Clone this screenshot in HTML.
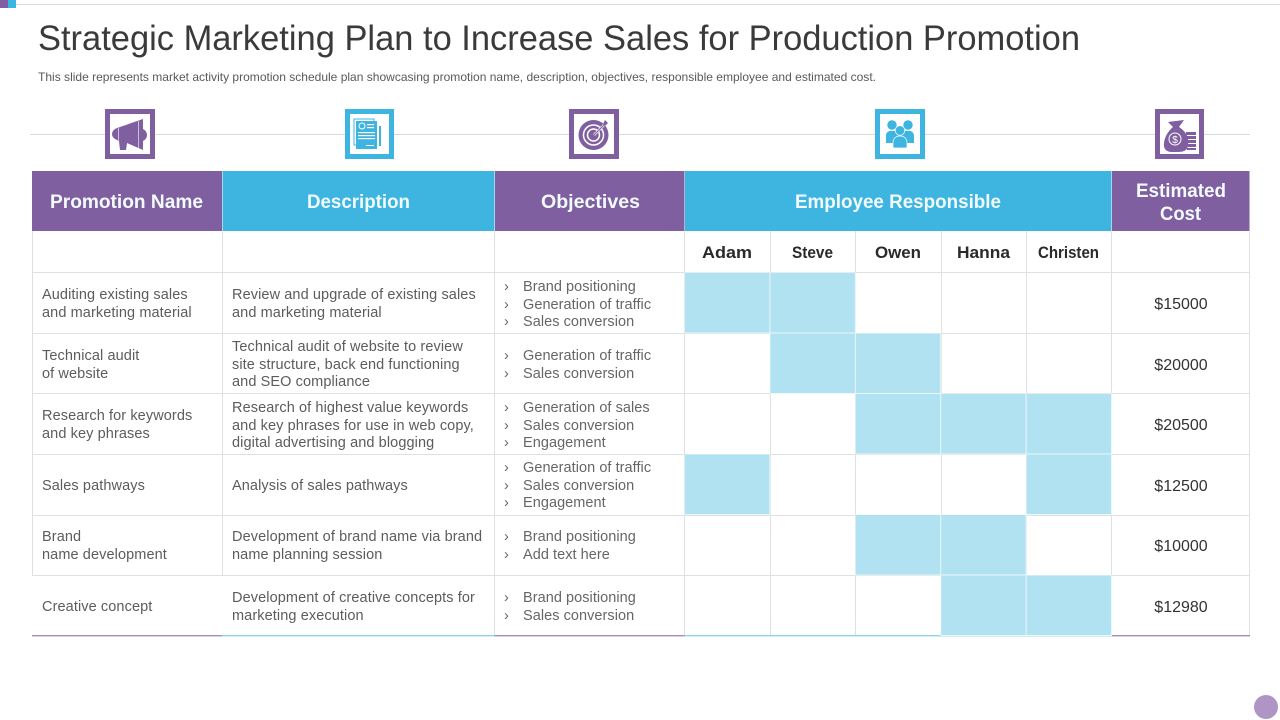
<!DOCTYPE html>
<html lang="en">
<head>
<meta charset="utf-8">
<title>Strategic Marketing Plan</title>
<style>
html,body{margin:0;padding:0;background:#fff;width:1280px;height:720px;overflow:hidden}
svg{display:block;font-family:"Liberation Sans",sans-serif}
.b{font-size:14.5px;fill:#5c5c5c;letter-spacing:.1px}
.a{font-size:14.5px;fill:#666;letter-spacing:.05px}
.h{font-size:19px;font-weight:bold;fill:#f2fbff;text-anchor:middle}
.n{font-size:16.5px;font-weight:bold;fill:#2a2a2a;text-anchor:middle}
.c{font-size:16px;fill:#333;text-anchor:middle}
.g{stroke:#e0e0e0;stroke-width:1}
</style>
</head>
<body>
<svg id="slide" width="1280" height="720" viewBox="0 0 1280 720" xmlns="http://www.w3.org/2000/svg">
<rect width="1280" height="720" fill="#fff"/>
<rect x="0" y="4" width="1280" height="1" fill="#d9d9d9"/>
<rect x="0" y="0" width="8" height="8" fill="#7f5f9f"/>
<rect x="8" y="0" width="8" height="8" fill="#3db5e0"/>
<text x="38" y="50" font-size="35" fill="#3a3a3a" textLength="1042" lengthAdjust="spacingAndGlyphs">Strategic Marketing Plan to Increase Sales for Production Promotion</text>
<text x="38" y="81" font-size="12" fill="#595959" textLength="838" lengthAdjust="spacingAndGlyphs">This slide represents market activity promotion schedule plan showcasing promotion name, description, objectives, responsible employee and estimated cost.</text>

<rect x="30" y="134" width="1220" height="1" fill="#d9d9d9"/>

<g>
<rect x="107.5" y="111.5" width="45" height="45" fill="#fff" stroke="#7f5f9f" stroke-width="5"/>
<path d="M117 128 L143 119 L143 150 L127 143 L126 150 L120 150 L119 141 L117 140 Q112 138 112 134 Q112 130 117 128 Z" fill="#7f5f9f"/>
<path d="M143 129 Q147 131 147 135 Q147 139 143 141 Z" fill="#7f5f9f"/>
<rect x="118" y="127" width="1" height="14" fill="#cbbcd9"/>
<rect x="138" y="121" width="1" height="27" fill="#cbbcd9"/>
</g>
<g>
<rect x="347.5" y="111.5" width="44" height="45" fill="#fff" stroke="#3db5e0" stroke-width="5"/>
<rect x="354" y="119" width="20" height="26" fill="none" stroke="#3db5e0" stroke-width="1"/>
<rect x="356" y="121" width="21" height="28" fill="#3db5e0"/>
<circle cx="362" cy="126" r="3" fill="none" stroke="#fff" stroke-width="1"/>
<rect x="367" y="124" width="7" height="1.2" fill="#fff"/>
<rect x="367" y="127" width="7" height="1.2" fill="#fff"/>
<rect x="358" y="132" width="17" height="1.2" fill="#fff"/>
<rect x="358" y="135" width="17" height="1.2" fill="#fff"/>
<rect x="358" y="138" width="17" height="1.2" fill="#fff"/>
<rect x="366" y="145" width="8" height="1" fill="#fff"/>
<rect x="379" y="126" width="2" height="20" fill="#3db5e0"/>
</g>
<g>
<rect x="571.5" y="111.5" width="45" height="45" fill="#fff" stroke="#7f5f9f" stroke-width="5"/>
<circle cx="593.5" cy="135" r="15" fill="#7f5f9f"/>
<circle cx="593.5" cy="135" r="10" fill="none" stroke="#fff" stroke-width="1.5"/>
<circle cx="593.5" cy="135" r="6" fill="none" stroke="#fff" stroke-width="1.5"/>
<path d="M594 135 L604 125" stroke="#fff" stroke-width="2.5"/>
<path d="M594 135 L604 125" stroke="#7f5f9f" stroke-width="1.2"/>
<path d="M603 124 L605 120 L607 122 L608 123 L605 126 Z" fill="#7f5f9f"/>
</g>
<g>
<rect x="877.5" y="111.5" width="45" height="45" fill="#fff" stroke="#3db5e0" stroke-width="5"/>
<circle cx="892" cy="125" r="4.7" fill="#3db5e0"/>
<circle cx="908" cy="125" r="4.7" fill="#3db5e0"/>
<path d="M886 143 L886 135 Q887 130 893 131 L907 131 Q913 130 914 135 L914 143 Z" fill="#3db5e0"/>
<circle cx="900" cy="130.5" r="4.8" fill="#3db5e0" stroke="#fff" stroke-width=".7"/>
<path d="M893 148 L893 142 Q894 136 900 136 Q906 136 907 142 L907 148 Z" fill="#3db5e0" stroke="#fff" stroke-width=".7"/>
</g>
<g>
<rect x="1157.5" y="111.5" width="44" height="45" fill="#fff" stroke="#7f5f9f" stroke-width="5"/>
<path d="M1168 122 L1184 120 L1179 127 Q1190 134 1188 146 Q1187 152 1178 152 L1171 152 Q1163 151 1164 143 Q1165 134 1173 127 Z" fill="#7f5f9f"/>
<circle cx="1175" cy="139" r="6" fill="none" stroke="#fff" stroke-width="1"/>
<text x="1175" y="143" font-size="10" fill="#fff" text-anchor="middle">$</text>
<rect x="1186" y="132" width="10" height="3" fill="#7f5f9f"/>
<rect x="1187" y="136" width="9" height="3" fill="#7f5f9f"/>
<rect x="1188" y="140" width="8" height="3" fill="#7f5f9f"/>
<rect x="1188" y="144" width="8" height="3" fill="#7f5f9f"/>
<rect x="1187" y="148" width="9" height="2" fill="#7f5f9f"/>
</g>

<g>
<path class="g" fill="none" d="M32.5 231V575 M222.5 231V575 M494.5 231V635 M684.5 231V635 M770.5 231V635 M855.5 231V635 M941.5 231V635 M1026.5 231V635 M1111.5 231V635 M1249.5 231V635"/>
<path class="g" fill="none" d="M32 272.5H1250 M32 333.5H1250 M32 393.5H1250 M32 454.5H1250 M32 515.5H1250 M32 575.5H1250"/>
<rect x="32" y="635" width="190" height="1.4" fill="#a48fb9"/>
<rect x="222" y="635" width="272.5" height="1.4" fill="#8fd3e6"/>
<rect x="494.5" y="635" width="190" height="1.4" fill="#a48fb9"/>
<rect x="684.5" y="635" width="427" height="1.4" fill="#8fd3e6"/>
<rect x="1111.5" y="635" width="138.5" height="1.4" fill="#a48fb9"/>
</g>
<rect x="31" y="576" width="192" height="59" fill="#fff"/>
<g id="cells"></g>

<g>
<rect x="32" y="171" width="190" height="60" fill="#7f5f9f"/>
<rect x="222.5" y="171" width="272" height="60" fill="#3db5e0"/>
<rect x="495" y="171" width="189.5" height="60" fill="#7f5f9f"/>
<rect x="685" y="171" width="426.5" height="60" fill="#3db5e0"/>
<rect x="1112" y="171" width="137.5" height="60" fill="#7f5f9f"/>
<text class="h" x="126.5" y="208" textLength="153" lengthAdjust="spacingAndGlyphs">Promotion Name</text>
<text class="h" x="358.5" y="208" textLength="103" lengthAdjust="spacingAndGlyphs">Description</text>
<text class="h" x="590.5" y="208" textLength="99" lengthAdjust="spacingAndGlyphs">Objectives</text>
<text class="h" x="898" y="208" textLength="206" lengthAdjust="spacingAndGlyphs">Employee Responsible</text>
<text class="h" x="1181" y="197" textLength="90" lengthAdjust="spacingAndGlyphs">Estimated</text>
<text class="h" x="1180.5" y="220" textLength="41" lengthAdjust="spacingAndGlyphs">Cost</text>
</g>

<g>
<text class="n" x="727" y="258" textLength="50" lengthAdjust="spacingAndGlyphs">Adam</text>
<text class="n" x="812.5" y="258" textLength="41" lengthAdjust="spacingAndGlyphs">Steve</text>
<text class="n" x="898" y="258" textLength="46" lengthAdjust="spacingAndGlyphs">Owen</text>
<text class="n" x="983.5" y="258" textLength="53" lengthAdjust="spacingAndGlyphs">Hanna</text>
<text class="n" x="1068.5" y="258" textLength="61" lengthAdjust="spacingAndGlyphs">Christen</text>
</g>

<g>
<text class="b" x="42" y="299">Auditing existing sales</text>
<text class="b" x="42" y="317">and marketing material</text>
<text class="b" x="42" y="360">Technical audit</text>
<text class="b" x="42" y="378">of website</text>
<text class="b" x="42" y="420">Research for keywords</text>
<text class="b" x="42" y="438">and key phrases</text>
<text class="b" x="42" y="490">Sales pathways</text>
<text class="b" x="42" y="541">Brand</text>
<text class="b" x="42" y="559">name development</text>
<text class="b" x="42" y="611">Creative concept</text>
</g>

<g>
<text class="b" x="232" y="299">Review and upgrade of existing sales</text>
<text class="b" x="232" y="317">and marketing material</text>
<text class="b" x="232" y="351">Technical audit of website to review</text>
<text class="b" x="232" y="369">site structure, back end functioning</text>
<text class="b" x="232" y="386">and SEO compliance</text>
<text class="b" x="232" y="412">Research of highest value keywords</text>
<text class="b" x="232" y="430">and key phrases for use in web copy,</text>
<text class="b" x="232" y="447">digital advertising and blogging</text>
<text class="b" x="232" y="490">Analysis of sales pathways</text>
<text class="b" x="232" y="541">Development of brand name via brand</text>
<text class="b" x="232" y="559">name planning session</text>
<text class="b" x="232" y="602">Development of creative concepts for</text>
<text class="b" x="232" y="620">marketing execution</text>
</g>

<g>
<text class="a" x="504" y="291">›</text>
<text class="a" x="523" y="291">Brand positioning</text>
<text class="a" x="504" y="309">›</text>
<text class="a" x="523" y="309">Generation of traffic</text>
<text class="a" x="504" y="326">›</text>
<text class="a" x="523" y="326">Sales conversion</text>
<text class="a" x="504" y="360">›</text>
<text class="a" x="523" y="360">Generation of traffic</text>
<text class="a" x="504" y="378">›</text>
<text class="a" x="523" y="378">Sales conversion</text>
<text class="a" x="504" y="412">›</text>
<text class="a" x="523" y="412">Generation of sales</text>
<text class="a" x="504" y="430">›</text>
<text class="a" x="523" y="430">Sales conversion</text>
<text class="a" x="504" y="447">›</text>
<text class="a" x="523" y="447">Engagement</text>
<text class="a" x="504" y="472">›</text>
<text class="a" x="523" y="472">Generation of traffic</text>
<text class="a" x="504" y="490">›</text>
<text class="a" x="523" y="490">Sales conversion</text>
<text class="a" x="504" y="507">›</text>
<text class="a" x="523" y="507">Engagement</text>
<text class="a" x="504" y="541">›</text>
<text class="a" x="523" y="541">Brand positioning</text>
<text class="a" x="504" y="559">›</text>
<text class="a" x="523" y="559">Add text here</text>
<text class="a" x="504" y="602">›</text>
<text class="a" x="523" y="602">Brand positioning</text>
<text class="a" x="504" y="620">›</text>
<text class="a" x="523" y="620">Sales conversion</text>
</g>

<g>
<text class="c" x="1181" y="309">$15000</text>
<text class="c" x="1181" y="370">$20000</text>
<text class="c" x="1181" y="430">$20500</text>
<text class="c" x="1181" y="491">$12500</text>
<text class="c" x="1181" y="551">$10000</text>
<text class="c" x="1181" y="612">$12980</text>
</g>

<circle cx="1266" cy="707" r="12" fill="#ae95c6"/>
</svg>
<script>
var employees = ["Adam", "Steve", "Owen", "Hanna", "Christen"];
var promotions = ["Auditing", "Technical", "Research", "Sales pathways", "Brand", "Creative"];
var adamCells = [1, 0, 0, 1, 0, 0];
var steveCells = [1, 1, 0, 0, 0, 0];
var owenCells = [0, 1, 1, 0, 1, 0];
var hannaCells = [0, 0, 1, 0, 1, 1];
var christenCells = [0, 0, 1, 1, 0, 1];
var assignmentMatrix = [adamCells, steveCells, owenCells, hannaCells, christenCells];

function columnX(i) { return 685 + i * 85.4; }
function rowY(j) { return 273 + j * 60.5; }

var svgNS = "http://www.w3.org/2000/svg";
var cellsGroup = document.getElementById("cells");
employees.forEach(function (employee, i) {
  promotions.forEach(function (promotion, j) {
    if (!assignmentMatrix[i][j]) { return; }
    var gap = document.createElementNS(svgNS, "rect");
    gap.setAttribute("x", columnX(i) - 0.5);
    gap.setAttribute("y", rowY(j) - 0.5);
    gap.setAttribute("width", 86);
    gap.setAttribute("height", 61);
    gap.setAttribute("fill", "#eaf7fb");
    
    
    cellsGroup.appendChild(gap);
  });
});
employees.forEach(function (employee, i) {
  promotions.forEach(function (promotion, j) {
    if (!assignmentMatrix[i][j]) { return; }
    var cell = document.createElementNS(svgNS, "rect");
    cell.setAttribute("x", columnX(i));
    cell.setAttribute("y", rowY(j));
    cell.setAttribute("width", 84.4);
    cell.setAttribute("height", 59.5);
    cell.setAttribute("fill", "#b1e2f2");
    
    
    cellsGroup.appendChild(cell);
  });
});
</script>
</body>
</html>
